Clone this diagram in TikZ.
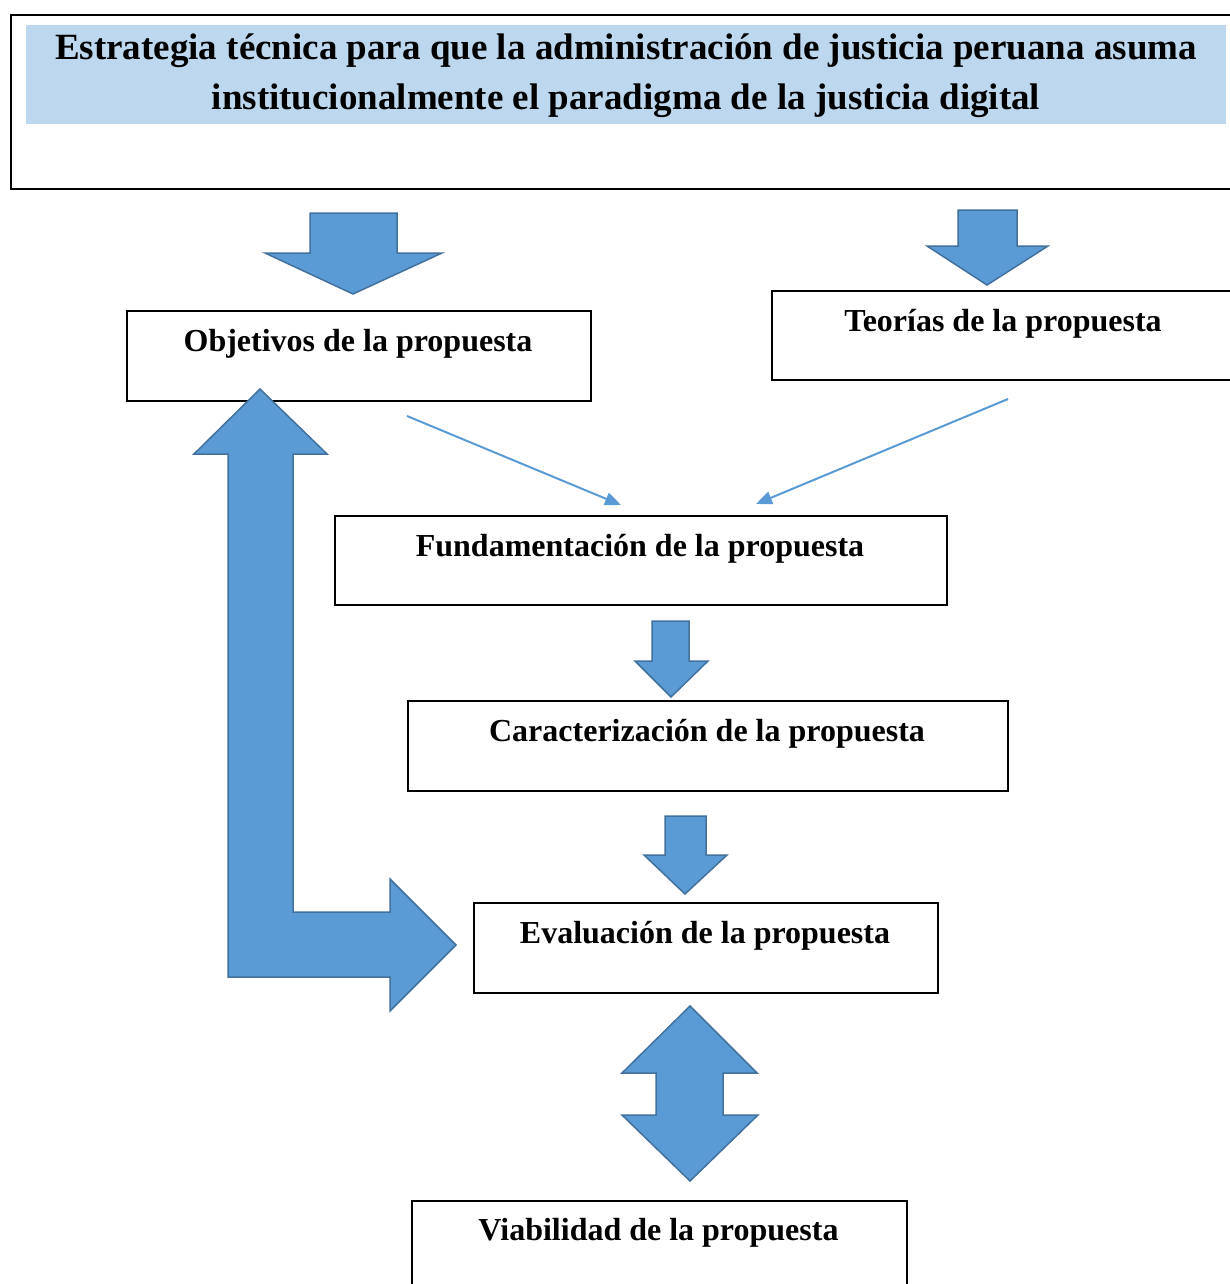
\documentclass[tikz,border=0pt]{standalone}
\usepackage{fontspec}
\setmainfont{Liberation Serif}
\usetikzlibrary{arrows.meta}
\definecolor{bandblue}{HTML}{BDD7EE}
\definecolor{arrowfill}{HTML}{5B9BD5}
\definecolor{arrowline}{HTML}{41719C}
\tikzset{
  box/.style={draw=black, line width=1.8pt, fill=white, inner sep=0pt, anchor=north west},
  boxtext/.style={inner sep=0pt, anchor=base, font=\fontsize{32}{38}\selectfont\bfseries},
  titletext/.style={inner sep=0pt, anchor=base, font=\fontsize{37}{50}\selectfont\bfseries},
  blockarrow/.style={fill=arrowfill, draw=arrowline, line width=1.5pt, line join=miter},
  thinarrow/.style={draw=arrowfill, line width=2pt, -{Triangle[length=16pt,width=13pt]}}
}
\begin{document}
\begin{tikzpicture}[x=1pt,y=-1pt]
\useasboundingbox (0,0) rectangle (1230,1284);
\fill[white] (0,0) rectangle (1230,1284);

% title box
\node[box, minimum width=1240pt, minimum height=174pt] (top) at (10,14) {};
\fill[bandblue] (26,25) rectangle (1226,124);
\node[titletext] (t1) at (626,60) {Estrategia técnica para que la administración de justicia peruana asuma};
\node[titletext] (t2) at (626,110) {institucionalmente el paradigma de la justicia digital};

% boxes
\node[box, minimum width=464pt, minimum height=90pt] (obj) at (126,310) {};
\node[boxtext] (objt) at (358,351) {Objetivos de la propuesta};
\node[box, minimum width=480pt, minimum height=89pt] (teo) at (771,290) {};
\node[boxtext] (teot) at (1003,331) {Teorías de la propuesta};
\node[box, minimum width=612pt, minimum height=89pt] (fun) at (334,515) {};
\node[boxtext] (funt) at (640,556) {Fundamentación de la propuesta};
\node[box, minimum width=600pt, minimum height=90pt] (car) at (407,700) {};
\node[boxtext] (cart) at (707,741) {Caracterización de la propuesta};
\node[box, minimum width=464pt, minimum height=90pt] (eva) at (473,902) {};
\node[boxtext] (evat) at (705,943) {Evaluación de la propuesta};
\node[box, minimum width=495pt, minimum height=120pt] (via) at (411,1200) {};
\node[boxtext] (viat) at (658.5,1240) {Viabilidad de la propuesta};

% block arrows
\draw[blockarrow] (310,213)--(397,213)--(397,253)--(442,253)--(353,294)--(265,253)--(310,253)--cycle;
\draw[blockarrow] (958,210)--(1017,210)--(1017,246)--(1048,246)--(987,285)--(927,246)--(958,246)--cycle;
\draw[blockarrow] (260,389)--(327,454)--(293,454)--(293,912)--(390,912)--(390,879)--(456,945)--(390,1011)--(390,977)--(228,977)--(228,454)--(194,454)--cycle;
\draw[blockarrow] (652,621)--(689,621)--(689,661)--(708,661)--(671,697)--(635,661)--(652,661)--cycle;
\draw[blockarrow] (665,816)--(706,816)--(706,855)--(727,855)--(685,894)--(644,855)--(665,855)--cycle;
\draw[blockarrow] (690,1006)--(757,1073)--(723,1073)--(723,1115)--(758,1115)--(690,1181)--(622,1115)--(656,1115)--(656,1073)--(622,1073)--cycle;

% thin connectors
\coordinate (a1) at (407,416);
\coordinate (a2) at (621,505);
\coordinate (b1) at (1008,399);
\coordinate (b2) at (756,504);
\draw[thinarrow] (a1) -- (a2);
\draw[thinarrow] (b1) -- (b2);
\end{tikzpicture}
\end{document}
